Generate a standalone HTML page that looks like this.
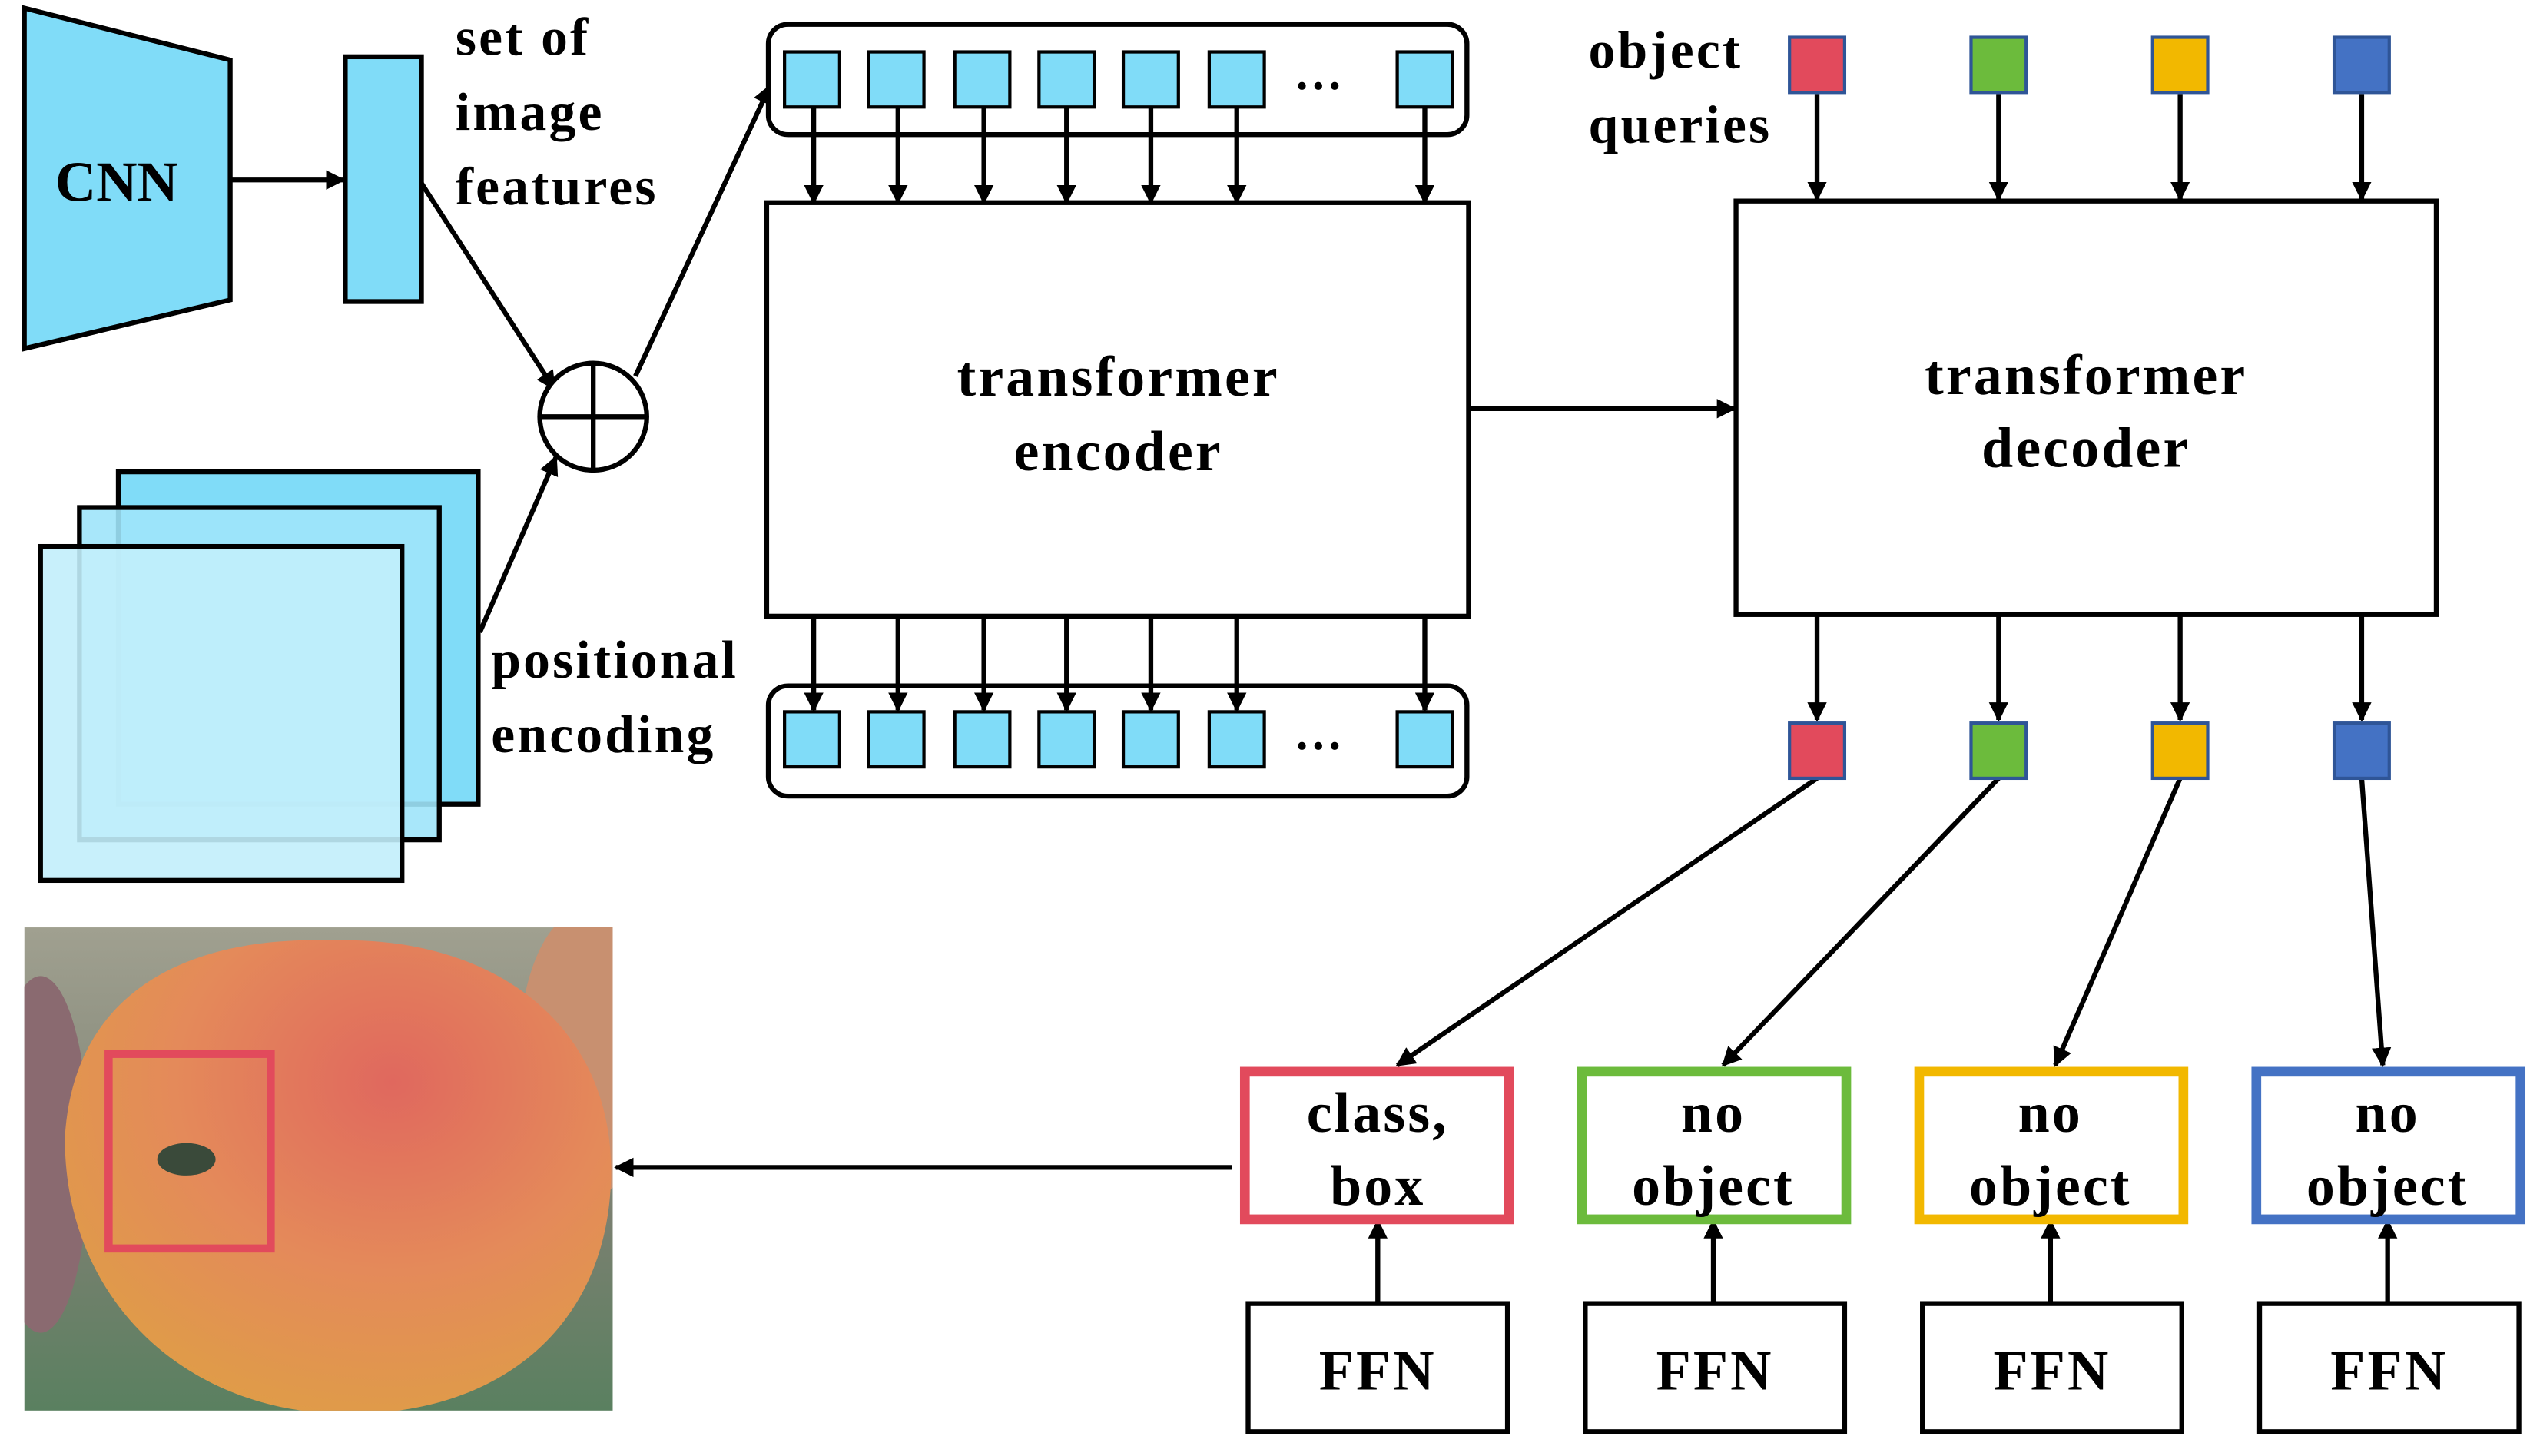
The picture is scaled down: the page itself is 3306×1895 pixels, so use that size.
<!DOCTYPE html>
<html><head><meta charset="utf-8"><style>
html,body{margin:0;padding:0;background:#fff;}
svg{display:block;}
text{font-family:"Liberation Serif",serif;font-weight:bold;fill:#000;letter-spacing:1.5px;}
</style></head><body>
<svg width="3306" height="1895" viewBox="0 0 1567 898" preserveAspectRatio="none" xmlns="http://www.w3.org/2000/svg">
<defs>
<marker id="a" viewBox="0 0 10 10" refX="9" refY="5" markerWidth="4" markerHeight="4" orient="auto"><path d="M0,0L10,5L0,10z" fill="#000"/></marker>
<radialGradient id="ap" cx="0.6" cy="0.3" r="0.8"><stop offset="0" stop-color="#e0685e"/><stop offset="0.5" stop-color="#e48a5a"/><stop offset="1" stop-color="#dea044"/></radialGradient>
<linearGradient id="bg" x1="0" y1="0" x2="0" y2="1"><stop offset="0" stop-color="#a0a090"/><stop offset="0.6" stop-color="#7a8070"/><stop offset="1" stop-color="#5a8060"/></linearGradient>
</defs>
<g stroke="#000" stroke-width="3">
<polygon points="15,5 142,37 142,185 15,215" fill="#80dcf8"/>
<line x1="142" y1="111" x2="212" y2="111" marker-end="url(#a)"/>
<rect x="213" y="35" width="47" height="151" fill="#80dcf8"/>
<line x1="260" y1="113" x2="342" y2="240" marker-end="url(#a)"/>
<circle cx="366" cy="257" r="33" fill="#fff"/>
<line x1="333" y1="257" x2="399" y2="257"/><line x1="366" y1="224" x2="366" y2="290"/>
<rect x="73" y="291" width="222" height="205" fill="#80dcf8"/>
<rect x="49" y="313" width="222" height="205" fill="#9fe4f9" fill-opacity="0.9"/>
<rect x="25" y="337" width="223" height="206" fill="#c2eefb" fill-opacity="0.9"/>
<line x1="296" y1="390" x2="343" y2="282" marker-end="url(#a)"/>
<line x1="392" y1="232" x2="475" y2="53" marker-end="url(#a)"/>
<rect x="474" y="15" width="431" height="68" rx="12" fill="#fff"/>
<rect x="474" y="423" width="431" height="68" rx="12" fill="#fff"/>
<rect x="473" y="125" width="433" height="255" fill="#fff"/>
<rect x="1071" y="124" width="432" height="255" fill="#fff"/>
<line x1="906" y1="252" x2="1070" y2="252" marker-end="url(#a)"/>
</g>
<g stroke="#000" stroke-width="2">
<g fill="#80dcf8">
<rect x="484" y="32" width="34" height="34"/><rect x="536" y="32" width="34" height="34"/><rect x="589" y="32" width="34" height="34"/><rect x="641" y="32" width="34" height="34"/><rect x="693" y="32" width="34" height="34"/><rect x="746" y="32" width="34" height="34"/><rect x="862" y="32" width="34" height="34"/>
<rect x="484" y="439" width="34" height="34"/><rect x="536" y="439" width="34" height="34"/><rect x="589" y="439" width="34" height="34"/><rect x="641" y="439" width="34" height="34"/><rect x="693" y="439" width="34" height="34"/><rect x="746" y="439" width="34" height="34"/><rect x="862" y="439" width="34" height="34"/>
</g>
</g>
<g stroke="#000" stroke-width="3" marker-end="url(#a)">
<line x1="502" y1="66" x2="502" y2="125"/><line x1="554" y1="66" x2="554" y2="125"/><line x1="607" y1="66" x2="607" y2="125"/><line x1="658" y1="66" x2="658" y2="125"/><line x1="710" y1="66" x2="710" y2="125"/><line x1="763" y1="66" x2="763" y2="125"/><line x1="879" y1="66" x2="879" y2="125"/>
<line x1="502" y1="380" x2="502" y2="438"/><line x1="554" y1="380" x2="554" y2="438"/><line x1="607" y1="380" x2="607" y2="438"/><line x1="658" y1="380" x2="658" y2="438"/><line x1="710" y1="380" x2="710" y2="438"/><line x1="763" y1="380" x2="763" y2="438"/><line x1="879" y1="380" x2="879" y2="438"/>
<line x1="1121" y1="58" x2="1121" y2="123"/><line x1="1233" y1="58" x2="1233" y2="123"/><line x1="1345" y1="58" x2="1345" y2="123"/><line x1="1457" y1="58" x2="1457" y2="123"/>
<line x1="1121" y1="380" x2="1121" y2="444"/><line x1="1233" y1="380" x2="1233" y2="444"/><line x1="1345" y1="380" x2="1345" y2="444"/><line x1="1457" y1="380" x2="1457" y2="444"/>
<line x1="1121" y1="480" x2="862" y2="657"/><line x1="1233" y1="480" x2="1063" y2="657"/><line x1="1345" y1="480" x2="1268" y2="657"/><line x1="1457" y1="480" x2="1470" y2="657"/>
<line x1="850" y1="803" x2="850" y2="753"/><line x1="1057" y1="803" x2="1057" y2="753"/><line x1="1265" y1="803" x2="1265" y2="753"/><line x1="1473" y1="803" x2="1473" y2="753"/>
<line x1="760" y1="720" x2="380" y2="720"/>
</g>
<g stroke-width="2">
<rect x="1104" y="23" width="34" height="34" fill="#e24a5c" stroke="#2f5597"/>
<rect x="1216" y="23" width="34" height="34" fill="#6cbb3c" stroke="#2f5597"/>
<rect x="1328" y="23" width="34" height="34" fill="#f2b800" stroke="#2f5597"/>
<rect x="1440" y="23" width="34" height="34" fill="#4472c4" stroke="#2f5597"/>
<rect x="1104" y="446" width="34" height="34" fill="#e24a5c" stroke="#2f5597"/>
<rect x="1216" y="446" width="34" height="34" fill="#6cbb3c" stroke="#2f5597"/>
<rect x="1328" y="446" width="34" height="34" fill="#f2b800" stroke="#2f5597"/>
<rect x="1440" y="446" width="34" height="34" fill="#4472c4" stroke="#2f5597"/>
</g>
<g fill="#fff" stroke-width="6">
<rect x="768" y="661" width="163" height="91" stroke="#e24a5c"/>
<rect x="976" y="661" width="163" height="91" stroke="#6cbb3c"/>
<rect x="1184" y="661" width="163" height="91" stroke="#f2b800"/>
<rect x="1392" y="661" width="163" height="91" stroke="#4472c4"/>
</g>
<g fill="#fff" stroke="#000" stroke-width="3">
<rect x="770" y="804" width="160" height="79"/><rect x="978" y="804" width="160" height="79"/><rect x="1186" y="804" width="160" height="79"/><rect x="1394" y="804" width="160" height="79"/>
</g>
<svg x="15" y="572" width="363" height="298" viewBox="0 0 363 298" overflow="hidden">
<rect x="0" y="0" width="363" height="298" fill="url(#bg)"/>
<ellipse cx="10" cy="140" rx="30" ry="110" fill="#8a6a70"/>
<ellipse cx="345" cy="80" rx="40" ry="90" fill="#c89070"/>
<path d="M25,130 C30,40 100,5 190,8 C290,5 362,60 362,150 C362,240 300,300 200,300 C100,300 25,230 25,130z" fill="url(#ap)"/>
<rect x="52" y="78" width="100" height="120" fill="none" stroke="#e24a5c" stroke-width="5"/>
<ellipse cx="100" cy="143" rx="18" ry="10" fill="#3a4a3a"/>
</svg>
<text x="72" y="124" font-size="35" text-anchor="middle" style="letter-spacing:0">CNN</text>
<g font-size="33">
<text x="281" y="34">set of</text><text x="281" y="80">image</text><text x="281" y="126">features</text>
<text x="303" y="418">positional</text><text x="303" y="464">encoding</text>
<text x="980" y="42">object</text><text x="980" y="88">queries</text>
</g>
<g font-size="35" text-anchor="middle">
<text x="690" y="244">transformer</text><text x="690" y="290">encoder</text>
<text x="1287" y="243">transformer</text><text x="1287" y="288">decoder</text>
<text x="850" y="698">class,</text><text x="850" y="743">box</text>
<text x="1057" y="698">no</text><text x="1057" y="743">object</text>
<text x="1265" y="698">no</text><text x="1265" y="743">object</text>
<text x="1473" y="698">no</text><text x="1473" y="743">object</text>
<text x="850" y="857">FFN</text><text x="1058" y="857">FFN</text><text x="1266" y="857">FFN</text><text x="1474" y="857">FFN</text>
</g>
<text x="814" y="55" font-size="30" text-anchor="middle">…</text>
<text x="814" y="462" font-size="30" text-anchor="middle">…</text>
</svg>
</body></html>
